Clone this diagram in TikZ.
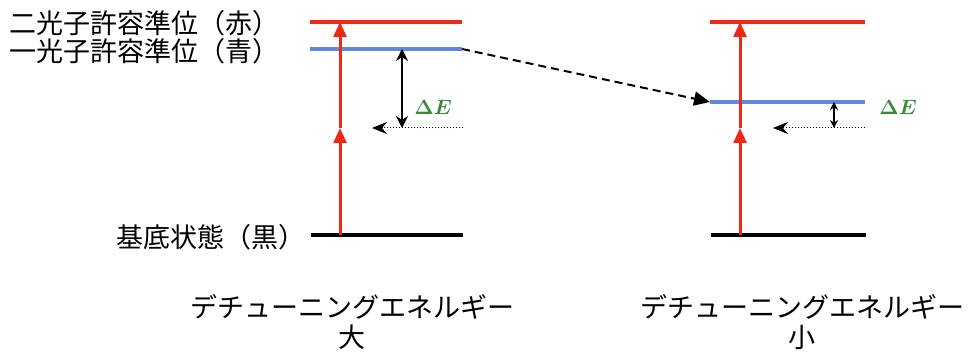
\documentclass[tikz,border=0pt]{standalone}
\usepackage{amsmath}
\usepackage{fontspec}
\newfontfamily\jp{Noto Sans CJK JP}
\usetikzlibrary{arrows.meta}
\definecolor{lvred}{RGB}{240,40,20}
\definecolor{lvblue}{RGB}{95,135,220}
\definecolor{degreen}{RGB}{55,140,50}
\begin{document}
\begin{tikzpicture}[x=1pt,y=-1pt,
  level/.style={line width=4pt},
  photon/.style={lvred,line width=3pt,-{Triangle[length=15pt,width=13pt]}},
  gapbig/.style={black,line width=2pt,{Stealth[length=12pt,width=12pt]}-{Stealth[length=12pt,width=12pt]}},
  gapsmall/.style={black,line width=1.5pt,{Stealth[length=8pt,width=8pt]}-{Stealth[length=8pt,width=8pt]}},
  refline/.style={black,line width=1pt,dotted,-{Stealth[length=15pt,width=12pt,inset=5pt]}},
  levelshift/.style={black,line width=2pt,dash pattern=on 8pt off 5pt,-{Triangle[length=16pt,width=14pt]}},
  lab/.style={font=\jp\fontsize{27}{29}\selectfont,inner sep=0pt},
  dlab/.style={font=\jp\fontsize{27}{30}\selectfont,inner sep=0pt,align=center},
  de/.style={text=degreen,font=\fontsize{21}{23}\selectfont,inner sep=0pt}
]
\useasboundingbox (0,0) rectangle (969,352);

% ---- left diagram ----
\coordinate (LrA) at (310,22);  \coordinate (LrB) at (462,22);
\coordinate (LbA) at (310,49);  \coordinate (LbB) at (462,49);
\coordinate (LgA) at (311,235); \coordinate (LgB) at (463,235);
\draw[level,lvred] (LrA) -- (LrB);
\draw[level,lvblue] (LbA) -- (LbB);
\draw[level,black] (LgA) -- (LgB);
\coordinate (Lp0) at (340,235);
\coordinate (Lp1) at (340,128);
\coordinate (Lp2) at (340,22);
\draw[photon] (Lp0) -- (Lp1);
\draw[photon] (Lp1) -- (Lp2);
\coordinate (LdT) at (402,49);
\coordinate (LdB) at (402,128);
\draw[gapbig] (LdT) -- (LdB);
\coordinate (LvR) at (463,128);
\coordinate (LvL) at (372,128);
\draw[refline] (LvR) -- (LvL);
\node[de] (LdE) at (433,107) {$\boldsymbol{\Delta E}$};

% ---- right diagram ----
\coordinate (RrA) at (710,22);  \coordinate (RrB) at (865,22);
\coordinate (RbA) at (710,102); \coordinate (RbB) at (865,102);
\coordinate (RgA) at (711,235); \coordinate (RgB) at (866,235);
\draw[level,lvred] (RrA) -- (RrB);
\draw[level,lvblue] (RbA) -- (RbB);
\draw[level,black] (RgA) -- (RgB);
\coordinate (Rp0) at (740,235);
\coordinate (Rp1) at (740,128);
\coordinate (Rp2) at (740,22);
\draw[photon] (Rp0) -- (Rp1);
\draw[photon] (Rp1) -- (Rp2);
\coordinate (RdT) at (834,102);
\coordinate (RdB) at (834,128);
\draw[gapsmall] (RdT) -- (RdB);
\coordinate (RvR) at (865,128);
\coordinate (RvL) at (773,128);
\draw[refline] (RvR) -- (RvL);
\node[de] (RdE) at (898,107) {$\boldsymbol{\Delta E}$};

% ---- shift arrow ----
\draw[levelshift] (LbB) -- (RbA);

% ---- labels ----
\node[lab,anchor=west] (l2) at (9,23) {二光子許容準位（赤）};
\node[lab,anchor=west] (l1) at (9,51) {一光子許容準位（青）};
\node[lab,anchor=west] (l0) at (116,237) {基底状態（黒）};
\node[dlab] (dL) at (352,307) {デチューニングエネルギー};
\node[dlab] (dLs) at (352,337.5) {大};
\node[dlab] (dR) at (802,307) {デチューニングエネルギー};
\node[dlab] (dRs) at (802,337.5) {小};
\end{tikzpicture}
\end{document}
